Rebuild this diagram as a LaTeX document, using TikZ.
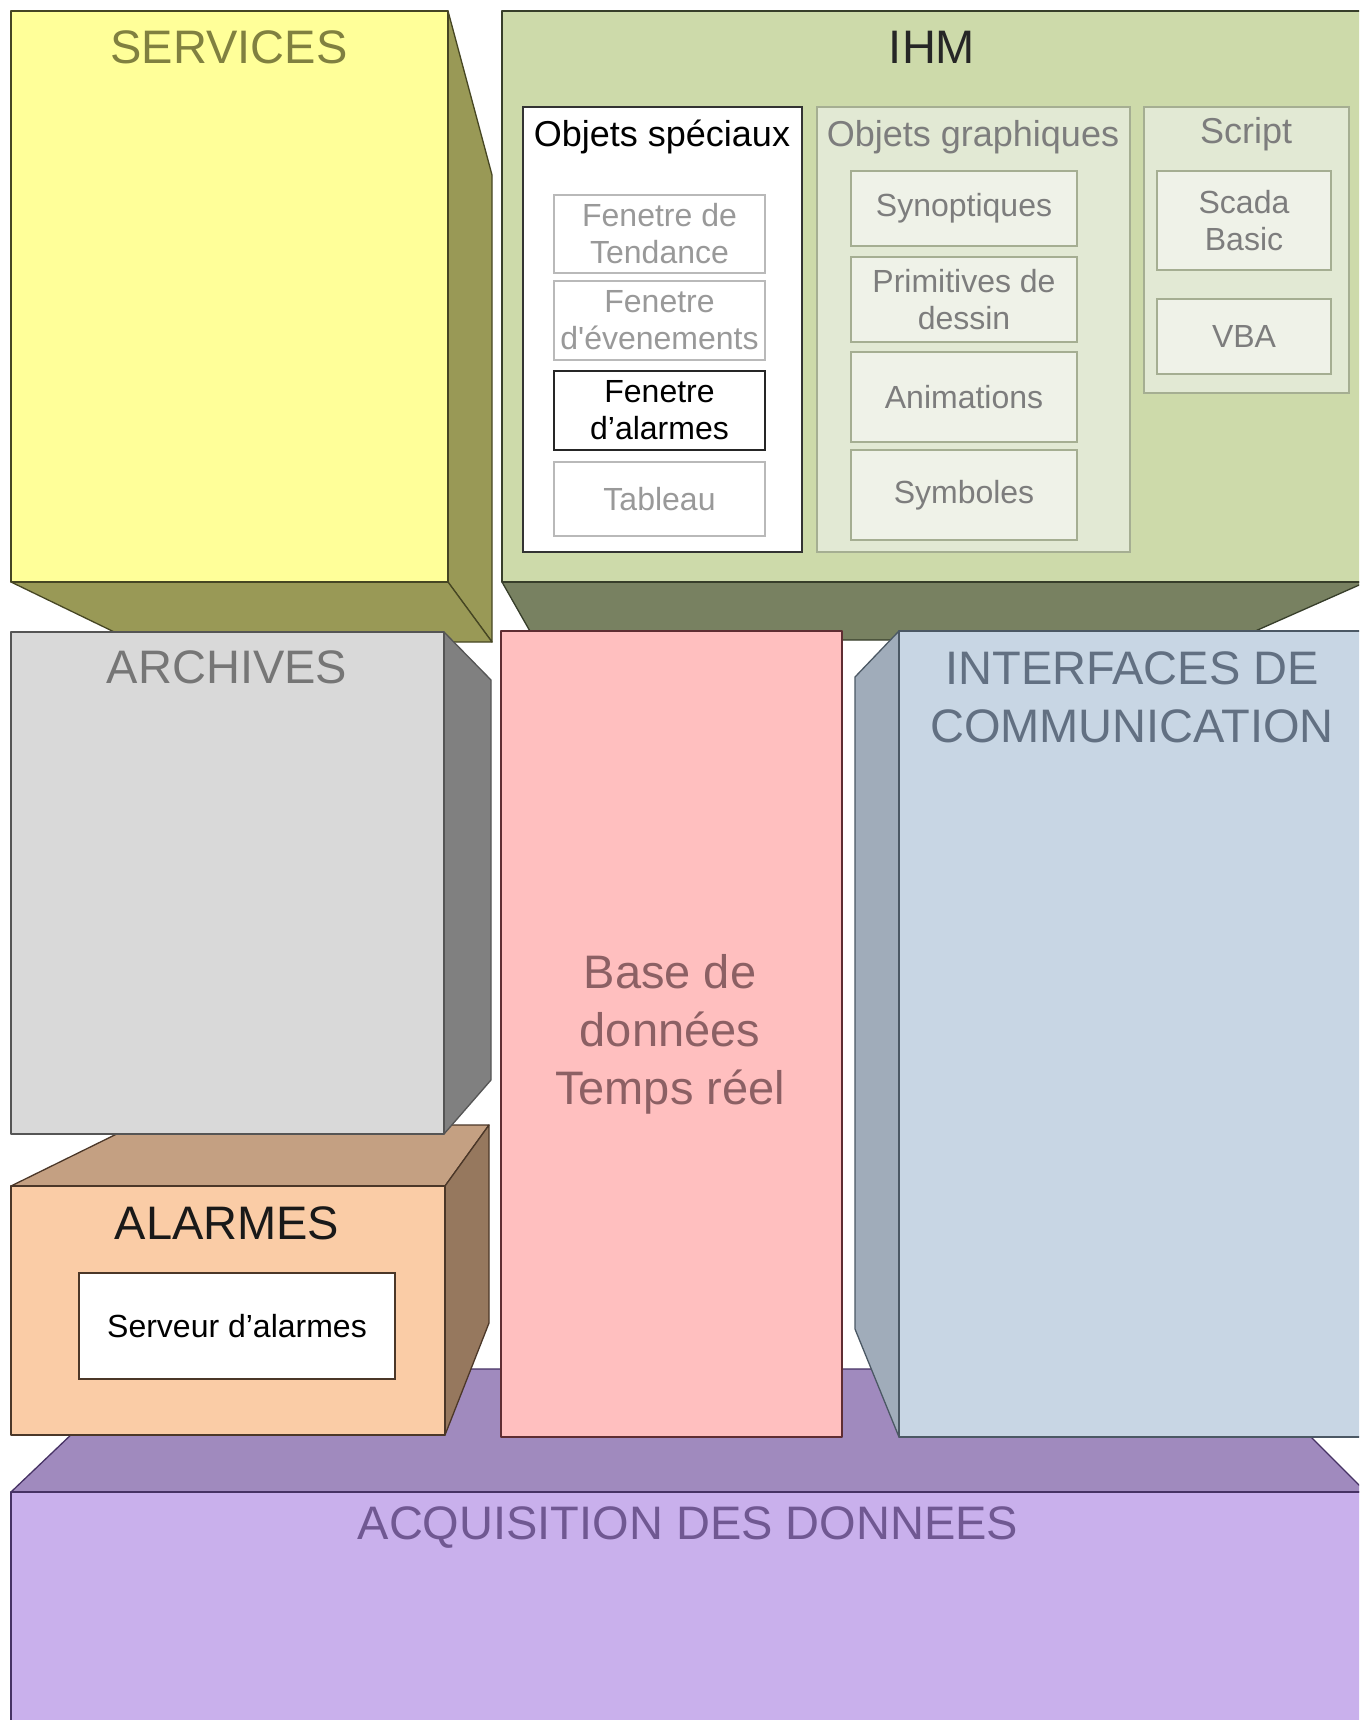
\documentclass[tikz,border=0pt]{standalone}
\usepackage{fontspec}
\setmainfont{Liberation Sans}

\begin{document}
\begin{tikzpicture}[x=1pt,y=-1pt]
%% colours
\definecolor{servfront}{RGB}{255,255,153}
\definecolor{servside}{RGB}{153,153,86}
\definecolor{servedge}{RGB}{70,70,35}
\definecolor{servtext}{RGB}{128,128,64}
\definecolor{ihmfront}{RGB}{205,218,170}
\definecolor{ihmside}{RGB}{120,129,97}
\definecolor{ihmedge}{RGB}{55,62,42}
\definecolor{ihmbox}{RGB}{226,233,212}
\definecolor{ihmitem}{RGB}{239,242,232}
\definecolor{ihmline}{RGB}{165,174,146}
\definecolor{ihmtext}{RGB}{125,125,125}
\definecolor{archfront}{RGB}{217,217,217}
\definecolor{archside}{RGB}{128,128,128}
\definecolor{archedge}{RGB}{85,85,85}
\definecolor{archtext}{RGB}{118,118,118}
\definecolor{alarmfront}{RGB}{250,204,166}
\definecolor{alarmtop}{RGB}{196,160,130}
\definecolor{alarmside}{RGB}{150,120,94}
\definecolor{alarmedge}{RGB}{75,55,40}
\definecolor{basefront}{RGB}{255,191,191}
\definecolor{baseedge}{RGB}{95,45,50}
\definecolor{basetext}{RGB}{140,96,100}
\definecolor{commfront}{RGB}{200,214,228}
\definecolor{commside}{RGB}{160,172,186}
\definecolor{commedge}{RGB}{75,88,100}
\definecolor{commtext}{RGB}{98,112,130}
\definecolor{acqfront}{RGB}{201,176,236}
\definecolor{acqtop}{RGB}{160,138,190}
\definecolor{acqedge}{RGB}{70,50,100}
\definecolor{acqtext}{RGB}{112,88,146}
%% styles
\tikzstyle{face}=[line width=1.3pt,line join=round]
\tikzstyle{bigtitle}=[font=\fontsize{47}{58}\selectfont,align=center,inner sep=0pt]
\tikzstyle{subtitle}=[font=\fontsize{36}{43}\selectfont,inner sep=0pt]
\tikzstyle{item}=[rectangle,font=\fontsize{32}{37}\selectfont,align=center,inner sep=0pt,minimum width=211pt,line width=1.3pt]
\tikzstyle{gitem}=[item,fill=ihmitem,draw=ihmline,text=ihmtext,minimum width=226pt]
\tikzstyle{sitem}=[item,fill=white,draw=gray!55,text=gray!80]

\useasboundingbox (0,0) rectangle (1359,1720);
\clip (0,0) rectangle (1359,1720);
\fill[white] (0,0) rectangle (1359,1720);

%%%%%%%%%%%%%%%%%%%%%%%%%%%%%%%%%%%%%%%%%%%%%%%%%%%%%%%%%%%%%%%%%%%%%%%%
%SERVICES
\filldraw[face,fill=servside,draw=servedge] (448,11) -- (492,175) -- (492,642) -- (448,582) -- cycle;
\filldraw[face,fill=servside,draw=servedge] (11,582) -- (448,582) -- (492,642) -- (135,642) -- cycle;
\filldraw[face,fill=servfront,draw=servedge] (11,11) rectangle (448,582);
\node[bigtitle,text=servtext] (services) at (229,47) {SERVICES};

%IHM
\filldraw[face,fill=ihmside,draw=ihmedge] (502,582) -- (1366,582) -- (1235,640) -- (535,640) -- cycle;
\filldraw[face,fill=ihmfront,draw=ihmedge] (502,11) rectangle (1366,582);
\node[bigtitle,text=black!85] (ihm) at (932,47) {IHM};

%objets speciaux
\filldraw[line width=1.5pt,fill=white,draw=black!80] (523,107) rectangle (802,552);
\node[subtitle,text=black] (speciaux) at (662,137) {Objets spéciaux};
\node[sitem,minimum height=78pt] (tendance) at (659.5,234) {Fenetre de\\Tendance};
\node[sitem,minimum height=79pt] (evenements) at (659.5,320.5) {Fenetre\\d\textquotesingle évenements};
\node[item,fill=white,draw=black!85,text=black,line width=2pt,minimum height=79pt] (fenalarmes) at (659.5,410.5) {Fenetre\\d’alarmes};
\node[sitem,minimum height=74pt] (tableau) at (659.5,499) {Tableau};

%objets graphiques
\filldraw[line width=1.3pt,fill=ihmbox,draw=ihmline] (817,107) rectangle (1130,552);
\node[subtitle,text=ihmtext] (graphiques) at (973,137) {Objets graphiques};
\node[gitem,minimum height=75pt] (synoptiques) at (964,208.5) {Synoptiques};
\node[gitem,minimum height=85pt] (primitives) at (964,299.5) {Primitives de\\dessin};
\node[gitem,minimum height=90pt] (animations) at (964,397) {Animations};
\node[gitem,minimum height=90pt] (symboles) at (964,495) {Symboles};

%script
\filldraw[line width=1.3pt,fill=ihmbox,draw=ihmline] (1144,107) rectangle (1349,393);
\node[subtitle,text=ihmtext] (script) at (1246,134) {Script};
\node[gitem,minimum width=174pt,minimum height=99pt] (scada) at (1244,220.5) {Scada\\Basic};
\node[gitem,minimum width=174pt,minimum height=75pt] (vba) at (1244,336.5) {VBA};

%%%%%%%%%%%%%%%%%%%%%%%%%%%%%%%%%%%%%%%%%%%%%%%%%%%%%%%%%%%%%%%%%%%%%%%%
%ACQUISITION (top face, behind)
\filldraw[face,fill=acqtop,draw=acqedge] (11,1492) -- (1366,1492) -- (1243,1369) -- (140,1369) -- cycle;

%ALARMES
\filldraw[face,fill=alarmtop,draw=alarmedge] (11,1186) -- (445,1186) -- (489,1125) -- (135,1125) -- cycle;
\filldraw[face,fill=alarmside,draw=alarmedge] (445,1186) -- (489,1125) -- (489,1323) -- (445,1435) -- cycle;
\filldraw[face,fill=alarmfront,draw=alarmedge] (11,1186) rectangle (445,1435);
\node[bigtitle,text=black!90] (alarmes) at (227,1223) {ALARMES};
\node[draw=alarmedge,fill=white,line width=1.3pt,minimum width=316pt,minimum height=106pt,inner sep=0pt,font=\fontsize{32}{37}\selectfont] (serveur) at (237,1326) {Serveur d’alarmes};

%ARCHIVES
\filldraw[face,fill=archside,draw=archedge] (444,632) -- (491,680) -- (491,1080) -- (444,1134) -- cycle;
\filldraw[face,fill=archfront,draw=archedge] (11,632) rectangle (444,1134);
\node[bigtitle,text=archtext] (archives) at (227,667) {ARCHIVES};

%BASE
\filldraw[face,fill=basefront,draw=baseedge] (501,631) rectangle (842,1437);
\node[bigtitle,text=basetext] (base) at (670,1034) {Base de\\données\\Temps réel};

%INTERFACES
\filldraw[face,fill=commside,draw=commedge] (899,631) -- (855,677) -- (855,1329) -- (899,1437) -- cycle;
\filldraw[face,fill=commfront,draw=commedge] (899,631) rectangle (1366,1437);
\node[bigtitle,text=commtext] (interfaces) at (1132,697) {INTERFACES DE\\COMMUNICATION};

%ACQUISITION
\filldraw[face,fill=acqfront,draw=acqedge] (11,1492) rectangle (1366,1730);
\node[bigtitle,text=acqtext] (acquisition) at (688,1528) {ACQUISITION DES DONNEES};
\end{tikzpicture}
\end{document}
